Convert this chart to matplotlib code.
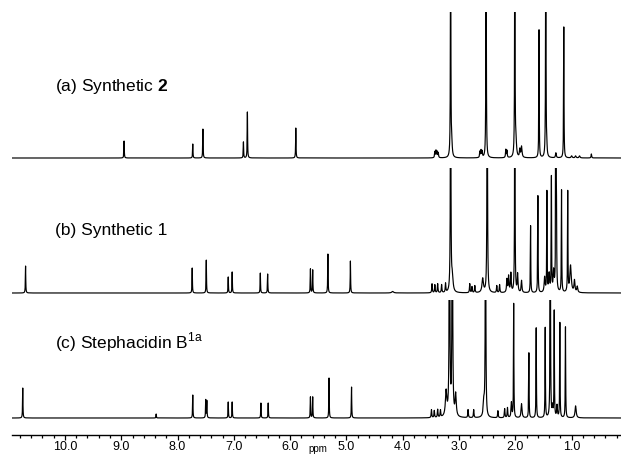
import numpy as np
import matplotlib
matplotlib.use("Agg")
import matplotlib.pyplot as plt
from matplotlib.ticker import MultipleLocator, FormatStrFormatter

plt.rcParams['font.family'] = ['Liberation Sans', 'DejaVu Sans']
plt.rcParams['mathtext.fontset'] = 'custom'
plt.rcParams['mathtext.rm'] = 'Liberation Sans'
plt.rcParams['mathtext.bf'] = 'Liberation Sans:bold'

# ---------------- data: peak lists (ppm, relative height, half width) ----------
# (a) Synthetic 2
a_ppm = [8.95, 7.73, 7.55, 6.83, 6.76, 5.90,
         3.43, 3.41, 3.39, 3.37, 3.15, 3.13,
         2.63, 2.61, 2.59, 2.52, 2.17, 2.15, 2.01, 1.99, 1.92, 1.89,
         1.58, 1.46, 1.44, 1.28, 1.14, 1.00, 0.93, 0.86, 0.65]
a_h = [17, 14, 29, 16, 46, 30,
       6, 7, 6, 5, 300, 12,
       6, 7, 6, 300, 8, 7, 300, 14, 8, 11,
       128, 300, 6, 5, 131, 2, 2, 2, 4]
a_w = [0.004, 0.004, 0.004, 0.004, 0.004, 0.004,
       0.006, 0.006, 0.006, 0.006, 0.004, 0.010,
       0.006, 0.006, 0.006, 0.004, 0.006, 0.006, 0.004, 0.012, 0.008, 0.010,
       0.004, 0.004, 0.006, 0.008, 0.004, 0.010, 0.010, 0.010, 0.006]

# (b) Synthetic 1
b_ppm = [10.70, 7.74, 7.49, 7.10, 7.03, 6.53, 6.40, 5.64, 5.60, 5.33, 4.93, 4.18,
         3.48, 3.43, 3.38, 3.31, 3.24, 3.15, 3.12,
         2.81, 2.77, 2.72, 2.58, 2.50, 2.33, 2.28,
         2.15, 2.12, 2.08, 2.01, 1.96, 1.89,
         1.73, 1.60, 1.48, 1.44, 1.40, 1.36, 1.32, 1.28, 1.27,
         1.18, 1.07, 1.02, 0.95, 0.90]
b_h = [27, 25, 33, 16, 21, 20, 19, 24, 23, 39, 32, 1.5,
       9, 8, 9, 8, 9, 300, 15,
       9, 6, 7, 14, 300, 7, 8,
       13, 16, 19, 300, 18, 12,
       67, 97, 15, 100, 18, 114, 20, 300, 60,
       102, 100, 27, 12, 6]
b_w = [0.004, 0.004, 0.004, 0.004, 0.004, 0.004, 0.004, 0.004, 0.004, 0.004, 0.004, 0.02,
       0.006, 0.006, 0.006, 0.006, 0.006, 0.005, 0.015,
       0.006, 0.006, 0.006, 0.015, 0.005, 0.006, 0.006,
       0.008, 0.008, 0.008, 0.004, 0.008, 0.008,
       0.004, 0.004, 0.010, 0.004, 0.010, 0.004, 0.010, 0.004, 0.004,
       0.004, 0.004, 0.015, 0.010, 0.010]

# (c) Stephacidin B
c_ppm = [10.75, 8.38, 7.73, 7.50, 7.48, 7.10, 7.03, 6.52, 6.39, 5.64, 5.60, 5.31, 4.91,
         3.49, 3.44, 3.38, 3.33, 3.23, 3.17, 3.12, 3.06,
         2.84, 2.74, 2.56, 2.53, 2.31, 2.19, 2.14, 2.07, 2.03, 1.89,
         1.76, 1.63, 1.47, 1.38, 1.34, 1.31, 1.26, 1.21, 1.11, 0.93]
c_h = [30, 4, 23, 18, 17, 16, 16, 15, 15, 21, 21, 40, 31,
       8, 7, 8, 7, 25, 300, 300, 22,
       8, 8, 15, 300, 7, 9, 10, 15, 114, 14,
       65, 90, 90, 300, 10, 106, 12, 95, 91, 12]
c_w = [0.004, 0.004, 0.004, 0.004, 0.004, 0.004, 0.004, 0.004, 0.004, 0.004, 0.004, 0.004, 0.004,
       0.006, 0.006, 0.006, 0.006, 0.015, 0.006, 0.006, 0.012,
       0.006, 0.006, 0.012, 0.005, 0.006, 0.006, 0.006, 0.008, 0.004, 0.010,
       0.004, 0.004, 0.004, 0.004, 0.008, 0.004, 0.008, 0.004, 0.004, 0.012]

labels = [r"(a) Synthetic $\mathbf{2}$", "(b) Synthetic 1", r"(c) Stephacidin B$^{\mathrm{1a}}$"]
major_ticks = [10.0, 9.0, 8.0, 7.0, 6.0, 5.0, 4.0, 3.0, 2.0, 1.0]

# ------------------------------------------------------------------------------
W, H = 621, 454
fig = plt.figure(figsize=(W / 100, H / 100), dpi=100)

X_LEFT, X_RIGHT = 12, 621
PPM_LEFT, PPM_RIGHT = 10.941, 0.124
grid = np.linspace(PPM_RIGHT, PPM_LEFT, 24000)


def spectrum(ppm, h, w):
    y = np.zeros_like(grid)
    for c, hh, ww in zip(ppm, h, w):
        y += hh * ww ** 2 / (ww ** 2 + (grid - c) ** 2)
    return y


def add_axes(top_px, bottom_px):
    return fig.add_axes([X_LEFT / W, 1 - bottom_px / H,
                         (X_RIGHT - X_LEFT) / W, (bottom_px - top_px) / H])


panels = [
    (a_ppm, a_h, a_w, 12, 165, 146, 86),
    (b_ppm, b_h, b_w, 168, 300, 125, 230),
    (c_ppm, c_h, c_w, 300, 425, 118, 342),
]
for (ppm, h, w, top, bot, ymax, ty), lab in zip(panels, labels):
    ax = add_axes(top, bot)
    ax.plot(grid, spectrum(ppm, h, w), color='black', lw=0.85)
    ax.set_xlim(PPM_LEFT, PPM_RIGHT)
    ax.set_ylim(-7, ymax)
    ax.axis('off')
    fig.text(55 / W, 1 - ty / H, lab, fontsize=12.5, ha='left', va='center')

# ppm scale
sax = add_axes(425, 435)
sax.set_xlim(PPM_LEFT, PPM_RIGHT)
sax.set_ylim(0, 1)
for s in ['top', 'left', 'right']:
    sax.spines[s].set_visible(False)
sax.spines['bottom'].set_linewidth(1.0)
sax.set_yticks([])
sax.set_xticks(major_ticks)
sax.xaxis.set_major_formatter(FormatStrFormatter('%.1f'))
sax.xaxis.set_minor_locator(MultipleLocator(0.2))
sax.tick_params(axis='x', which='major', direction='out', length=3.6, width=0.9, pad=0.6,
                labelsize=9)
sax.tick_params(axis='x', which='minor', direction='out', length=2.3, width=0.9)
for t in sax.get_xticklabels():
    t.set_family(['Liberation Sans Narrow', 'Liberation Sans'])
fig.text(318 / W, 1 - 444 / H, "ppm", fontsize=7, ha='center', va='top',
         family=['Liberation Sans Narrow', 'Liberation Sans'])

fig.savefig("out.png", dpi=100)
